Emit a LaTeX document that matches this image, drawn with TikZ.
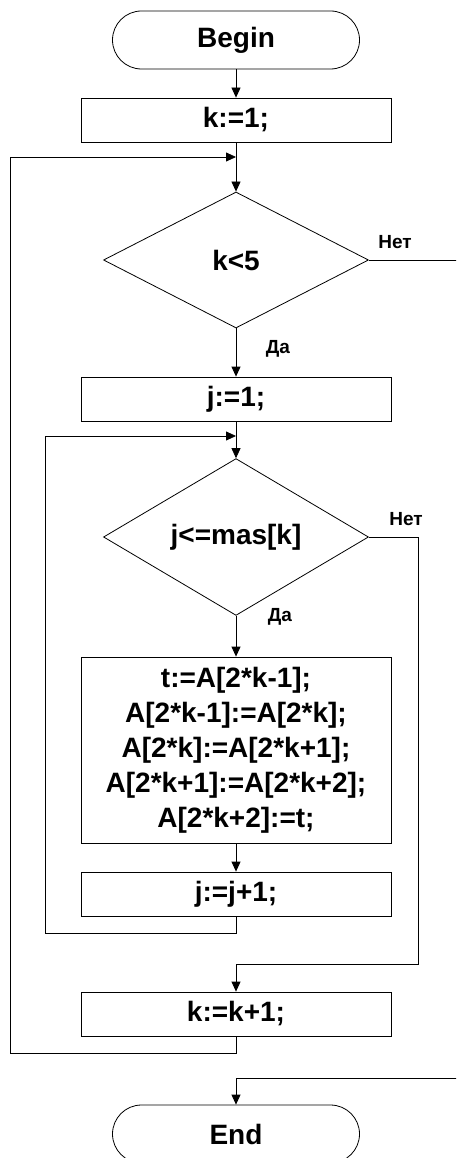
\documentclass[tikz,border=0pt]{standalone}
\usepackage{fontspec}
\setmainfont{Liberation Sans}
\usetikzlibrary{shapes.geometric,arrows.meta}

\tikzset{
  blk/.style={draw,line width=0.8pt,font=\bfseries\fontsize{28}{35}\selectfont},
  proc/.style={blk,rectangle,minimum width=310pt,minimum height=44pt,inner sep=0pt},
  term/.style={blk,rectangle,rounded corners=29pt,minimum width=247pt,minimum height=58pt,inner sep=0pt},
  cond/.style={blk,diamond,minimum width=265pt,minimum height=136pt,inner sep=0pt},
  lbl/.style={font=\bfseries\fontsize{19}{22}\selectfont,inner sep=0pt},
  arr/.style={line width=0.8pt,-{Triangle[length=10pt,width=9pt]}},
  ln/.style={line width=0.8pt}
}

\begin{document}
\begin{tikzpicture}[x=1pt,y=-1pt]
  \useasboundingbox (0,0) rectangle (456,1158);
  \clip (0,0) rectangle (456,1158);

  \node[term] (begin) at (236,40) {Begin};
  \node[proc] (k1) at (236,120) {k:=1;};
  \node[cond] (k5) at (236,260) {k<5};
  \node[proc] (j1) at (236,399) {j:=1;};
  \node[cond] (jc) at (236,537) {j<=mas[k]};
  \node[proc,minimum height=186pt,align=center] (body) at (236,750)
    {t:=A[2*k-1];\\A[2*k-1]:=A[2*k];\\A[2*k]:=A[2*k+1];\\A[2*k+1]:=A[2*k+2];\\A[2*k+2]:=t;};
  \node[proc] (jinc) at (236,894) {j:=j+1;};
  \node[proc] (kinc) at (236,1014) {k:=k+1;};
  \node[term] (end) at (236,1134) {End};

  \node[lbl] (no1) at (395,242) {Нет};
  \node[lbl] (yes1) at (278,349) {Да};
  \node[lbl] (no2) at (406,519) {Нет};
  \node[lbl] (yes2) at (280,617) {Да};

  \coordinate (loopk) at (236,157);
  \coordinate (loopj) at (236,436);
  \coordinate (kback) at (10,1053);
  \coordinate (jback) at (45,933);
  \coordinate (jexit) at (418,964);
  \coordinate (kexit) at (470,1078);

  \draw[arr] (begin) -- (k1);
  \draw[arr] (k1) -- (k5);
  \draw[arr] (k5) -- (j1);
  \draw[arr] (j1) -- (jc);
  \draw[arr] (jc) -- (body);
  \draw[arr] (body) -- (jinc);

  \draw[arr] (jinc.south) |- (jback) |- (loopj);
  \draw[arr] (kinc.south) |- (kback) |- (loopk);
  \draw[arr] (jc.east) -| (jexit) -| (kinc.north);
  \draw[arr] (k5.east) -| (kexit) -| (end.north);
\end{tikzpicture}
\end{document}
